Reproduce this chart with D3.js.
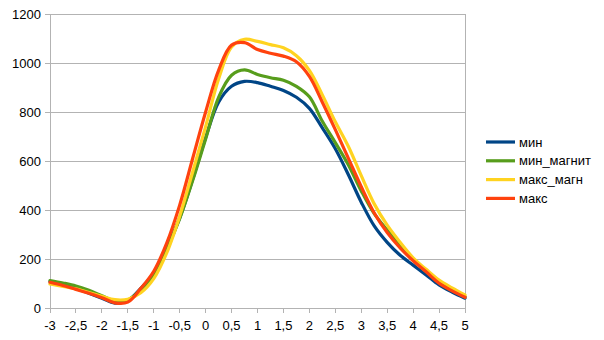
<!DOCTYPE html>
<html><head><meta charset="utf-8">
<script src="https://cdn.jsdelivr.net/npm/d3@7/dist/d3.min.js"></script>
<style>body{margin:0;background:#fff}svg text{font-family:"Liberation Sans",Arial,sans-serif;}</style>
</head><body><svg id="c" width="604" height="340"></svg>
<script>
const xs = [-3,-2.75,-2.5,-2.25,-2,-1.75,-1.5,-1.25,-1,-0.75,-0.5,-0.25,0,0.25,0.5,0.75,1,1.25,1.5,1.75,2,2.25,2.5,2.75,3,3.25,3.5,3.75,4,4.25,4.5,4.75,5];
const minV = [108,95,80,60,40,20,30,80,140,245,368,525,695,840,905,925,920,905,888,860,815,735,650,545,432,335,268,215,175,135,94,65,40];
const minMagnV = [112,102,90,72,50,28,32,75,135,240,365,520,690,860,950,972,953,940,930,905,862,762,675,585,478,385,318,255,196,150,105,74,46];
const maxMagnV = [98,88,78,63,48,34,36,62,120,225,375,555,740,935,1065,1097,1088,1075,1062,1030,970,870,760,660,540,425,338,268,205,158,114,82,53];
const maxV = [105,92,76,60,42,21,24,80,150,265,420,610,800,970,1073,1083,1055,1040,1028,1005,945,840,728,612,495,388,308,245,193,148,101,70,44];
const seriesNames = ["мин","мин_магнит","макс_магн","макс"];
const seriesColors = ["#004586","#579d1c","#ffd320","#ff420e"];
const xTicks = [-3,-2.5,-2,-1.5,-1,-0.5,0,0.5,1,1.5,2,2.5,3,3.5,4,4.5,5];
const yTicks = [0,200,400,600,800,1000,1200];

const series = [minV,minMagnV,maxMagnV,maxV];
const svg = d3.select("#c");
const x = d3.scaleLinear().domain([-3,5]).range([50,465]);
const y = d3.scaleLinear().domain([0,1200]).range([308,14]);
const fmt = v => String(v).replace(".",",");

svg.append("g").selectAll("line").data(yTicks).join("line")
  .attr("x1",45).attr("x2",465).attr("y1",d=>y(d)).attr("y2",d=>y(d))
  .attr("stroke","#b3b3b3").attr("stroke-width",1).attr("shape-rendering","crispEdges");
svg.append("line").attr("x1",50).attr("x2",50).attr("y1",14).attr("y2",313).attr("stroke","#b3b3b3").attr("shape-rendering","crispEdges");
svg.append("line").attr("x1",465).attr("x2",465).attr("y1",14).attr("y2",313).attr("stroke","#b3b3b3").attr("shape-rendering","crispEdges");
svg.append("g").selectAll("line").data(xTicks).join("line")
  .attr("x1",d=>x(d)).attr("x2",d=>x(d)).attr("y1",308).attr("y2",313)
  .attr("stroke","#b3b3b3").attr("shape-rendering","crispEdges");
svg.append("g").selectAll("text").data(yTicks).join("text")
  .attr("x",41).attr("y",d=>y(d)+4.5).attr("text-anchor","end")
  .attr("font-size",13).attr("fill","#000").text(d=>d);
svg.append("g").selectAll("text").data(xTicks).join("text")
  .attr("x",d=>x(d)).attr("y",330).attr("text-anchor","middle")
  .attr("font-size",13).attr("fill","#000").text(fmt);

const line = d3.line().x((d,i)=>x(xs[i])).y(d=>y(d)).curve(d3.curveCatmullRom.alpha(0.5));
svg.append("g").selectAll("path").data(series).join("path")
  .attr("d",d=>line(d)).attr("fill","none")
  .attr("stroke",(d,i)=>seriesColors[i]).attr("stroke-width",3.2)
  .attr("stroke-linejoin","round").attr("stroke-linecap","round");

const lg = svg.append("g").selectAll("g").data(seriesNames).join("g")
  .attr("transform",(d,i)=>`translate(486,${142+i*18.8})`);
lg.append("line").attr("x1",0).attr("x2",29).attr("y1",0).attr("y2",0)
  .attr("stroke",(d,i)=>seriesColors[i]).attr("stroke-width",3.2);
lg.append("text").attr("x",33).attr("y",4.5).attr("font-size",13).attr("fill","#000").text(d=>d);
</script></body></html>
